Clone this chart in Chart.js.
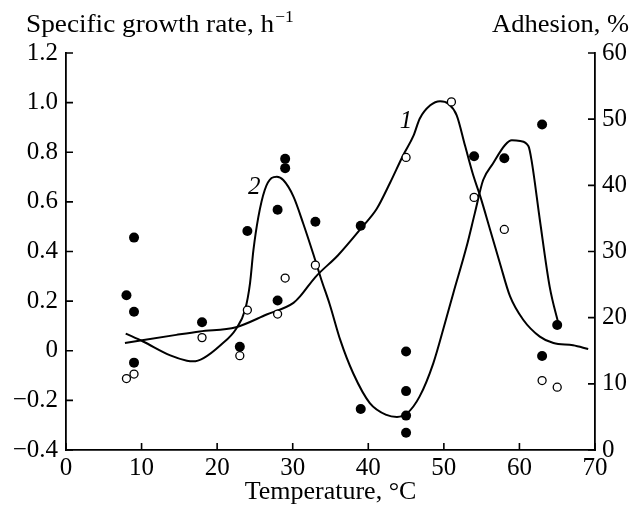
<!DOCTYPE html>
<html>
<head>
<meta charset="utf-8">
<script src="https://cdn.jsdelivr.net/npm/chart.js@4.4.1/dist/chart.umd.min.js"></script>
<style>
  html, body { margin: 0; padding: 0; background: #fff; }
  #chart { display: block; }
</style>
</head>
<body>
<canvas id="chart" width="631" height="513"></canvas>
<script>
// growth rate measurements (open circles), h^-1
const rateTemps = [8, 9, 18, 23, 24, 28, 29, 33, 45, 51, 54, 58, 63, 65];
const rateValues = [-0.112, -0.094, 0.053, -0.02, 0.164, 0.148, 0.293, 0.345, 0.779, 1.003, 0.618, 0.489, -0.12, -0.147];

// adhesion measurements (filled circles), %
const adhTemps = [8, 9, 9, 9, 18, 23, 24, 28, 28, 29, 29, 33, 39, 39, 45, 45, 45, 45, 54, 58, 63, 63, 65];
const adhValues = [23.4, 32.1, 20.9, 13.2, 19.3, 15.6, 33.1, 36.3, 22.6, 44.0, 42.6, 34.5, 33.9, 6.2, 14.9, 8.9, 5.2, 2.6, 44.4, 44.1, 49.2, 14.2, 18.9];

// curve 1 (growth rate)
const curve1Temps = [7.8, 14.6, 17.7, 22.5, 26.55, 30.1, 31, 33, 36, 39.2, 41.1, 42.9, 44.6, 46, 46.8, 48.2, 49.5, 50.6, 51.7, 52.8, 53.9, 54.8, 56.1, 57.4, 58.75, 60.5, 62.7, 64.5, 67.1, 69.1];
const curve1Values = [0.031, 0.064, 0.078, 0.095, 0.146, 0.193, 0.22, 0.297, 0.385, 0.499, 0.571, 0.678, 0.787, 0.868, 0.935, 0.989, 1.006, 0.996, 0.949, 0.827, 0.706, 0.624, 0.49, 0.355, 0.22, 0.125, 0.057, 0.031, 0.022, 0.007];

// curve 2 (adhesion)
const curve2Temps = [7.9, 10.2, 13.8, 16, 16.85, 18.2, 20.4, 22.5, 23.7, 24.35, 24.8, 25.45, 26.3, 27.2, 27.9, 28.75, 30.1, 31.4, 32.7, 33.8, 34.9, 36.3, 38, 40.2, 42.4, 43.8, 45.1, 46.8, 48.6, 50.15, 51.25, 53, 54.1, 55.2, 56.5, 58.1, 59, 60.1, 61.2, 61.6, 62.7, 64, 65.2];
const curve2Values = [17.6, 16.4, 14.3, 13.5, 13.4, 13.9, 15.8, 18.3, 21.2, 25.2, 30.2, 35.2, 39.3, 41.1, 41.3, 40.8, 38.3, 34.2, 29.7, 25.7, 22.0, 16.6, 11.6, 7.1, 5.3, 5.0, 5.5, 8.1, 13.1, 19.2, 23.7, 30.7, 35.8, 40.8, 43.3, 46.1, 46.8, 46.7, 45.9, 43.8, 34.8, 24.7, 18.9];

// curve numbers: text, temperature, value, axis
const curveLabels = [
  { text: "1", x: 45, y: 0.924, axis: "y" },
  { text: "2", x: 24.9, y: 39.7, axis: "y1" },
];

const SERIF = "'Liberation Serif', 'Times New Roman', serif";
const FONT_SIZE = 25;

function pairs(xs, ys) {
  return xs.map((x, i) => ({ x: x, y: ys[i] }));
}

function fmtRate(v) {
  if (Math.abs(v) < 1e-9) return "0";
  return (v < 0 ? "\u2212" : "") + Math.abs(v).toFixed(1);
}

// inward tick marks, curve numbers and the two axis headings
const decorations = {
  id: "decorations",
  afterDraw(chart) {
    const { ctx, chartArea: a, scales } = chart;
    const len = 7;
    ctx.save();
    ctx.strokeStyle = "#000";
    ctx.lineWidth = 1.6;
    ctx.beginPath();
    scales.x.ticks.forEach((t) => {
      const px = scales.x.getPixelForValue(t.value);
      ctx.moveTo(px, a.bottom);
      ctx.lineTo(px, a.bottom - len);
    });
    scales.y.ticks.forEach((t) => {
      const py = scales.y.getPixelForValue(t.value);
      ctx.moveTo(a.left, py);
      ctx.lineTo(a.left + len, py);
    });
    scales.y1.ticks.forEach((t) => {
      const py = scales.y1.getPixelForValue(t.value);
      ctx.moveTo(a.right, py);
      ctx.lineTo(a.right - len, py);
    });
    ctx.stroke();

    ctx.fillStyle = "#000";
    ctx.textBaseline = "middle";
    ctx.textAlign = "center";
    ctx.font = "italic " + FONT_SIZE + "px " + SERIF;
    curveLabels.forEach((l) => {
      ctx.fillText(l.text, scales.x.getPixelForValue(l.x), scales[l.axis].getPixelForValue(l.y));
    });

    // headings are set a little wide
    ctx.textBaseline = "alphabetic";
    ctx.save();
    ctx.translate(26, 32);
    ctx.scale(1.09, 1);
    ctx.textAlign = "left";
    ctx.font = FONT_SIZE + "px " + SERIF;
    const leftTitle = "Specific growth rate, h";
    ctx.fillText(leftTitle, 0, 0);
    const w = ctx.measureText(leftTitle).width;
    ctx.font = "16px " + SERIF;
    ctx.fillText("\u22121", w + 1, -10);
    ctx.restore();

    ctx.save();
    ctx.translate(629, 32);
    ctx.scale(1.06, 1);
    ctx.textAlign = "right";
    ctx.font = FONT_SIZE + "px " + SERIF;
    ctx.fillText("Adhesion, %", 0, 0);
    ctx.restore();
    ctx.restore();
  },
};

const axisFont = { family: SERIF, size: FONT_SIZE };

new Chart(document.getElementById("chart"), {
  type: "scatter",
  data: {
    datasets: [
      {
        label: "Growth rate",
        data: pairs(rateTemps, rateValues),
        yAxisID: "y",
        pointRadius: 4,
        pointBackgroundColor: "#fff",
        pointBorderColor: "#000",
        pointBorderWidth: 1.3,
        order: 0,
      },
      {
        label: "Adhesion",
        data: pairs(adhTemps, adhValues),
        yAxisID: "y1",
        pointRadius: 5,
        pointBackgroundColor: "#000",
        pointBorderColor: "#000",
        pointBorderWidth: 0,
        order: 0,
      },
      {
        label: "1",
        data: pairs(curve1Temps, curve1Values),
        yAxisID: "y",
        showLine: true,
        pointRadius: 0,
        borderColor: "#000",
        borderWidth: 2,
        cubicInterpolationMode: "monotone",
        order: 1,
      },
      {
        label: "2",
        data: pairs(curve2Temps, curve2Values),
        yAxisID: "y1",
        showLine: true,
        pointRadius: 0,
        borderColor: "#000",
        borderWidth: 2,
        cubicInterpolationMode: "monotone",
        order: 1,
      },
    ],
  },
  options: {
    responsive: false,
    animation: false,
    devicePixelRatio: 1,
    layout: { padding: { top: 53, left: 0, right: 0, bottom: 0 } },
    plugins: {
      legend: { display: false },
      tooltip: { enabled: false },
    },
    scales: {
      x: {
        type: "linear",
        position: "bottom",
        min: 0,
        max: 70,
        afterFit: (s) => { s.height = 63; },
        ticks: { stepSize: 10, color: "#000", font: axisFont, padding: 3, maxRotation: 0 },
        grid: { display: false, drawTicks: false },
        border: { display: true, color: "#000", width: 1.8 },
        title: { display: true, text: "Temperature, \u00B0C", color: "#000", font: { family: SERIF, size: 26 }, padding: { top: 0, bottom: 5 } },
      },
      y: {
        type: "linear",
        position: "left",
        min: -0.4,
        max: 1.2,
        afterFit: (s) => { s.width = 66; },
        ticks: { stepSize: 0.2, color: "#000", font: axisFont, padding: 8, callback: fmtRate },
        grid: { display: false, drawTicks: false },
        border: { display: true, color: "#000", width: 1.8 },
      },
      y1: {
        type: "linear",
        position: "right",
        min: 0,
        max: 60,
        afterFit: (s) => { s.width = 36; },
        ticks: { stepSize: 10, color: "#000", font: axisFont, padding: 7 },
        grid: { display: false, drawTicks: false },
        border: { display: true, color: "#000", width: 1.8 },
      },
    },
  },
  plugins: [decorations],
});
</script>
</body>
</html>
